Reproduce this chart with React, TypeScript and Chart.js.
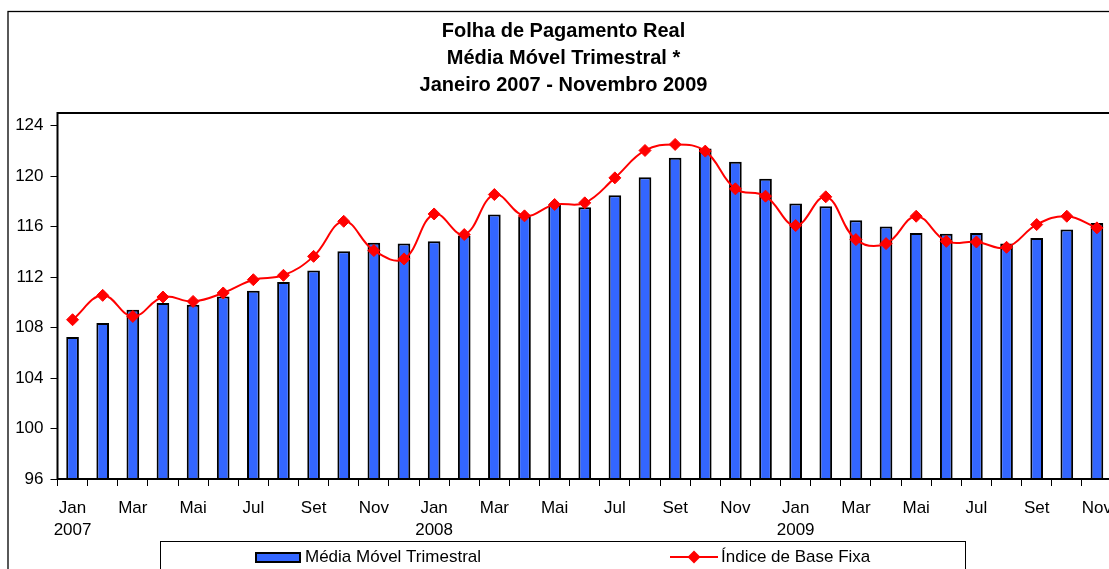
import { useEffect, useRef } from 'react';
import { Chart, registerables } from 'chart.js';

Chart.register(...registerables);

// ---------- data ----------
const categories = [
  'Jan/07', 'Fev/07', 'Mar/07', 'Abr/07', 'Mai/07', 'Jun/07', 'Jul/07', 'Ago/07', 'Set/07', 'Out/07', 'Nov/07', 'Dez/07',
  'Jan/08', 'Fev/08', 'Mar/08', 'Abr/08', 'Mai/08', 'Jun/08', 'Jul/08', 'Ago/08', 'Set/08', 'Out/08', 'Nov/08', 'Dez/08',
  'Jan/09', 'Fev/09', 'Mar/09', 'Abr/09', 'Mai/09', 'Jun/09', 'Jul/09', 'Ago/09', 'Set/09', 'Out/09', 'Nov/09',
];

const xTickLabels: (string | string[])[] = [
  ['Jan', '2007'], '', 'Mar', '', 'Mai', '', 'Jul', '', 'Set', '', 'Nov', '',
  ['Jan', '2008'], '', 'Mar', '', 'Mai', '', 'Jul', '', 'Set', '', 'Nov', '',
  ['Jan', '2009'], '', 'Mar', '', 'Mai', '', 'Jul', '', 'Set', '', 'Nov',
];

const mediaMovelTrimestral = [
  107.25, 108.36, 109.41, 109.94, 109.81, 110.47, 110.92, 111.61, 112.53, 114.04, 114.71, 114.65,
  114.83, 115.29, 116.95, 116.82, 117.75, 117.53, 118.48, 119.91, 121.45, 122.19, 121.13, 119.79,
  117.83, 117.61, 116.5, 116.0, 115.5, 115.44, 115.5, 114.65, 115.1, 115.76, 116.29,
];

const indiceBaseFixa = [
  108.62, 110.55, 108.88, 110.42, 110.07, 110.74, 111.79, 112.14, 113.64, 116.42, 114.1, 113.44,
  117.0, 115.37, 118.54, 116.85, 117.75, 117.88, 119.86, 122.03, 122.51, 121.98, 118.99, 118.41,
  116.08, 118.36, 114.97, 114.65, 116.82, 114.83, 114.78, 114.36, 116.16, 116.82, 115.9,
];

const yTickValues = [96, 100, 104, 108, 112, 116, 120, 124];
const yMin = 96;
const yMax = 125;

const titleLines = ['Folha de Pagamento Real', 'Média Móvel Trimestral *', 'Janeiro 2007 - Novembro 2009'];
const seriesNames = ['Média Móvel Trimestral', 'Índice de Base Fixa'];

// ---------- style ----------
const FONT = '"Liberation Sans", Arial, Helvetica, sans-serif';
const BAR_BLUE = '#3366FF';
const LINE_RED = '#FF0000';
const W = 1124;
const H = 590;

const framePlugin = {
  id: 'frameAndLegend',
  afterDraw(chart: any) {
    const ctx = chart.ctx;
    const ca = chart.chartArea;
    ctx.save();
    // outer frame
    ctx.strokeStyle = '#000';
    ctx.lineWidth = 1.3;
    ctx.strokeRect(8, 11.5, 1114, 700);
    // plot area border
    ctx.lineWidth = 2;
    ctx.strokeRect(ca.left, ca.top, ca.right - ca.left, ca.bottom - ca.top);

    // legend box
    ctx.lineWidth = 1;
    ctx.strokeRect(160.5, 541.5, 805, 60);

    const ds0 = chart.data.datasets[0];
    const ds1 = chart.data.datasets[1];
    const cy = 557;
    // bar swatch
    ctx.fillStyle = ds0.backgroundColor;
    ctx.fillRect(255, 552, 46, 11);
    ctx.strokeStyle = '#000';
    ctx.lineWidth = 2;
    ctx.strokeRect(256, 553, 44, 9);
    ctx.fillStyle = '#000';
    ctx.font = `17px ${FONT}`;
    ctx.textBaseline = 'middle';
    ctx.textAlign = 'left';
    ctx.fillText(ds0.label, 305, cy);

    // line swatch
    ctx.strokeStyle = ds1.borderColor;
    ctx.lineWidth = 2;
    ctx.beginPath();
    ctx.moveTo(670, cy);
    ctx.lineTo(718, cy);
    ctx.stroke();
    ctx.fillStyle = ds1.pointBackgroundColor;
    ctx.beginPath();
    const r = 6.5;
    ctx.moveTo(694 - r, cy);
    ctx.lineTo(694, cy - r);
    ctx.lineTo(694 + r, cy);
    ctx.lineTo(694, cy + r);
    ctx.closePath();
    ctx.fill();
    ctx.fillStyle = '#000';
    ctx.fillText(ds1.label, 721, cy);
    ctx.restore();
  },
};

export default function App() {
  const canvasRef = useRef<HTMLCanvasElement | null>(null);

  useEffect(() => {
    if (!canvasRef.current) return;
    Chart.defaults.color = '#000';
    Chart.defaults.font.family = FONT;
    const chart = new Chart(canvasRef.current, {
      type: 'bar',
      data: {
        labels: categories,
        datasets: [
          {
            type: 'bar',
            label: seriesNames[0],
            data: mediaMovelTrimestral,
            backgroundColor: BAR_BLUE,
            borderColor: '#000',
            borderWidth: 2,
            barPercentage: 0.42,
            categoryPercentage: 1,
            order: 2,
          },
          {
            type: 'line',
            label: seriesNames[1],
            data: indiceBaseFixa,
            borderColor: LINE_RED,
            backgroundColor: LINE_RED,
            pointBackgroundColor: LINE_RED,
            pointBorderColor: LINE_RED,
            pointStyle: 'rectRot',
            pointRadius: 6,
            pointBorderWidth: 1,
            borderWidth: 2,
            tension: 0.4,
            fill: false,
            order: 1,
          },
        ] as any,
      },
      options: {
        responsive: false,
        animation: false,
        devicePixelRatio: 1,
        layout: { padding: { left: 3, right: 0, top: 0, bottom: 49 } },
        plugins: {
          legend: { display: false },
          tooltip: { enabled: false },
          title: {
            display: true,
            text: titleLines,
            color: '#000',
            font: { family: FONT, size: 20, weight: 'bold', lineHeight: 26.7 / 20 },
            padding: { top: 18.6, bottom: 14.3 },
          },
        },
        scales: {
          x: {
            type: 'category',
            offset: true,
            grid: {
              display: true,
              offset: true,
              drawOnChartArea: false,
              drawTicks: true,
              tickLength: 7,
              color: '#000',
              lineWidth: 1,
            },
            border: { display: false },
            ticks: {
              autoSkip: false,
              maxRotation: 0,
              minRotation: 0,
              padding: 11,
              color: '#000',
              font: { family: FONT, size: 17, lineHeight: 22.5 / 17 },
              callback: (_v: any, i: number) => xTickLabels[i],
            },
            afterFit: (s: any) => {
              s.height = 62;
            },
          },
          y: {
            type: 'linear',
            position: 'left',
            min: yMin,
            max: yMax,
            grid: {
              drawOnChartArea: false,
              drawTicks: true,
              tickLength: 7,
              color: '#000',
              lineWidth: 1,
            },
            border: { display: false },
            ticks: {
              stepSize: 4,
              padding: 7,
              color: '#000',
              font: { family: FONT, size: 17 },
            },
            afterBuildTicks: (s: any) => {
              s.ticks = yTickValues.map((v) => ({ value: v }));
            },
            afterFit: (s: any) => {
              s.width = 54.5;
            },
          },
          y2: {
            type: 'linear',
            position: 'right',
            display: true,
            grid: { display: false },
            border: { display: false },
            ticks: { display: false },
            afterFit: (s: any) => {
              s.width = 12;
            },
          },
        },
      } as any,
      plugins: [framePlugin],
    });
    return () => chart.destroy();
  }, []);

  return (
    <div style={{ position: 'absolute', left: 0, top: 0, width: 1109, height: 569, overflow: 'hidden', background: '#fff' }}>
      <canvas ref={canvasRef} width={W} height={H} style={{ width: W, height: H, display: 'block' }} />
    </div>
  );
}
